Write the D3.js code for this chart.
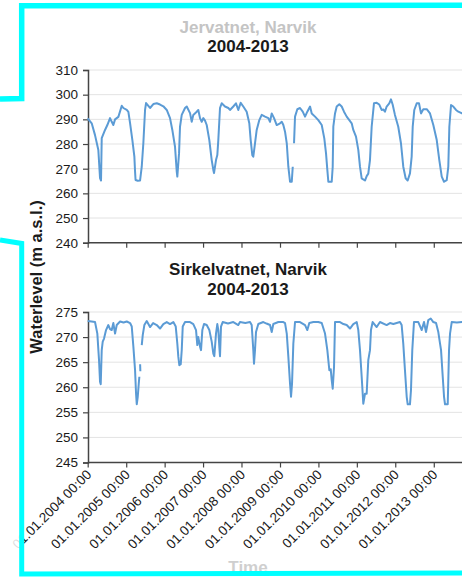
<!DOCTYPE html>
<html>
<head>
<meta charset="utf-8">
<script src="https://cdn.jsdelivr.net/npm/d3@7/dist/d3.min.js"></script>
<style>
  html, body { margin: 0; padding: 0; background: #fff; }
  svg { display: block; font-family: "Liberation Sans", Arial, sans-serif; }
</style>
</head>
<body>
<div id="chart"></div>
<script>
'use strict';

// data: time is given as years since 01.01.2004, null = gap in record
var baseYear = 2004;

var jerT = [0, 0.104, 0.19, 0.276, 0.32, 0.346, 0.364, 0.45, 0.51, 0.58, 0.624, 0.666, 0.71, 0.796, 0.884, 0.926,
  1.014, 1.056, 1.1, 1.16, 1.212, 1.23, 1.243, 1.3, 1.36, 1.404, 1.446, 1.49, 1.516, 1.62, 1.706, 1.795, 1.88, 1.966,
  2.055, 2.14, 2.2, 2.27, 2.315, 2.33, 2.375, 2.4, 2.445, 2.531, 2.575, 2.661, 2.705, 2.746, 2.835, 2.876, 2.921, 2.965,
  3.006, 3.051, 3.095, 3.163, 3.225, 3.267, 3.285, 3.337, 3.371, 3.397, 3.441, 3.485, 3.571, 3.657, 3.701, 3.787, 3.857, 3.917, 3.979,
  4.047, 4.135, 4.203, 4.239, 4.281, 4.307, 4.351, 4.395, 4.463, 4.525, 4.611, 4.697, 4.741, 4.785, 4.845, 4.915,
  5.001, 5.046, 5.087, 5.131, 5.176, 5.217, 5.261, 5.306, 5.332, 5.35, 5.365, 5.391, 5.451, 5.521, 5.592, 5.652, 5.711, 5.782, 5.826, 5.912, 5.997,
  6.086, 6.153, 6.198, 6.232, 6.258, 6.346, 6.372, 6.388, 6.432, 6.476, 6.544, 6.606, 6.666, 6.736, 6.804, 6.866, 6.908, 6.978,
  7.038, 7.082, 7.126, 7.212, 7.256, 7.298, 7.342, 7.386, 7.446, 7.516, 7.584, 7.646, 7.688, 7.732, 7.776, 7.844, 7.888, 7.932, 7.992,
  8.078, 8.148, 8.208, 8.27, 8.322, 8.382, 8.426, 8.453, 8.494, 8.557, 8.616, 8.668, 8.728, 8.817, 8.902, 8.988,
  9.077, 9.144, 9.207, 9.267, 9.337, 9.378, 9.405, 9.449, 9.508, 9.579, 9.639, 9.735, 9.8];

var jerLevel = [290.4, 288.4, 283.6, 277.6, 266.2, 265.2, 282.4, 285.7, 287.7, 290.5, 289, 287.7, 290, 291, 295.5, 294.6,
  293.8, 293, 288.5, 281.6, 274.9, 268.8, 265.4, 265.1, 265.2, 270.8, 280.4, 293.8, 296.6, 294.6, 296.2, 296.5, 296, 295.3,
  293.8, 290.5, 285.7, 278.9, 268.8, 266.8, 276.3, 287, 291.8, 294.6, 295.2, 292.5, 289, 291.8, 293.1, 293.8, 290.5, 289,
  290.5, 289.5, 287.7, 281.6, 273.5, 269.5, 268.2, 273.5, 275.5, 281.6, 294.6, 296.5, 295.2, 294.6, 293.8, 295.2, 296.5, 293.8, 296.7,
  295.2, 293.1, 288.4, 281.6, 275.5, 274.9, 280.3, 285.7, 289.7, 291.8, 291.1, 290.5, 289, 292.4, 290.5, 287.7,
  288.4, 289, 287.7, 285, 280.3, 270.8, 264.7, 264.7, 270.8, null, 280.3, 291.1, 294.1, 294.6, 293.1, 291.1, 293.1, 295.2, 292.4, 291.1, 289.7,
  287.7, 282.3, 276.2, 269.5, 264.7, 264.7, 270.8, 287, 292.4, 295.2, 296.1, 295.2, 293.1, 291.1, 289.7, 288.4, 285.7, 283,
  277.6, 270.8, 266.1, 265.2, 267, 268, 273.5, 287, 296.5, 296.7, 296, 293.8, 294, 293.1, 295.2, 296.5, 298.1, 296, 291.8,
  287, 280.3, 270.8, 266.1, 265.2, 268.1, 274.9, 287, 293.8, 296.5, 296.5, 292.4, 294.1, 294.1, 292.4, 287.7,
  281.6, 273.5, 266.8, 264.7, 265.4, 270.8, 287, 295.8, 295.2, 293.8, 293.1, 292.4, 292];

var sirT = [0, 0.1, 0.19, 0.25, 0.294, 0.32, 0.338, 0.364, 0.39, 0.424, 0.476, 0.536, 0.58, 0.624, 0.666, 0.71, 0.754, 0.84, 0.93,
  1.014, 1.1, 1.144, 1.186, 1.23, 1.256, 1.274, 1.3, 1.326, 1.342, 1.352, 1.362, 1.368, 1.38, 1.404, 1.43, 1.472, 1.534, 1.62, 1.7, 1.795, 1.88, 1.966,
  2.055, 2.14, 2.226, 2.289, 2.33, 2.356, 2.382, 2.419, 2.445, 2.471, 2.531, 2.661, 2.746, 2.817, 2.85, 2.876, 2.921, 2.947, 2.981,
  3.025, 3.095, 3.163, 3.225, 3.267, 3.293, 3.337, 3.371, 3.397, 3.423, 3.441, 3.467, 3.511, 3.65, 3.787, 3.917, 3.961,
  4.1, 4.221, 4.265, 4.307, 4.325, 4.351, 4.377, 4.437, 4.567, 4.65, 4.741, 4.785, 4.827, 4.957,
  5.087, 5.131, 5.176, 5.217, 5.261, 5.287, 5.313, 5.347, 5.391, 5.521, 5.652, 5.711, 5.763, 5.868, 5.997,
  6.086, 6.172, 6.232, 6.284, 6.32, 6.346, 6.372, 6.406, 6.432, 6.562, 6.65, 6.736, 6.822, 6.908, 6.996,
  7.038, 7.082, 7.126, 7.168, 7.212, 7.256, 7.298, 7.342, 7.368, 7.412, 7.516, 7.602, 7.776, 7.862, 7.95,
  8.122, 8.166, 8.208, 8.252, 8.297, 8.323, 8.382, 8.408, 8.442, 8.486, 8.598, 8.687, 8.746, 8.798, 8.858, 8.921, 8.988,
  9.059, 9.118, 9.163, 9.189, 9.233, 9.267, 9.293, 9.363, 9.397, 9.423, 9.467, 9.6, 9.735, 9.8];

var sirLevel = [273.2, 273.1, 273, 270.7, 265.4, 261.1, 260.6, 267.4, 269.1, 269.7, 271.4, 272.4, 271.6, 271.4, 272.8, 270.7, 272.4, 273.1, 272.9,
  273.1, 272.8, 272.1, 268.1, 263.4, 258.7, 256.6, 258.1, 260.7, 262.1, null, 264.6, 263.2, null, 268.4, 270.4, 272.4, 273.2, 272, 272.8, 272.4, 271.7, 272.6,
  273, 272.6, 273, 272.1, 268.7, 266.1, 264.4, 264.6, 267.4, 272.1, 273, 273, 272.6, 271.4, 268.4, 270, 268.1, 267.4, 271.4,
  272.6, 272.4, 271.4, 269.1, 266.7, 266.2, 270.7, 272.6, 271.4, 268.1, 266.2, 272.1, 273, 272.7, 273, 272.4, 273,
  272.8, 273, 272.4, 267.4, 264.7, 267.4, 271, 272.6, 273, 272.7, 272.4, 271, 272.6, 273,
  273, 272.8, 270.7, 266.1, 260.7, 258.1, 260.7, 268.7, 273, 273, 272.4, 271.4, 272.8, 273, 273,
  272.8, 270.7, 267.4, 263.4, 263.6, 261.4, 259.7, 264, 273, 273, 272.6, 272.4, 271.7, 272.6, 273,
  271.4, 267.4, 262.1, 256.7, 258.7, 258.7, 265.4, 267.4, 271.4, 273, 272, 273, 272.4, 272.8, 272.6,
  273, 272.4, 268.7, 263.4, 258.1, 256.6, 256.6, 259.4, 267.4, 273, 273, 271.4, 273, 271, 273.4, 273.7, 273,
  272.8, 271, 268.7, 267.4, 262.1, 258.1, 256.6, 256.6, 267.4, 270.7, 273, 272.9, 273, 273];

var jerTicks = [240, 250, 260, 270, 280, 290, 300, 310];
var sirTicks = [245, 250, 255, 260, 265, 270, 275];
var titles = [['Jervatnet, Narvik', '2004-2013'], ['Sirkelvatnet, Narvik', '2004-2013']];
var yTitle = 'Waterlevel (m a.s.l.)';
var xTitle = 'Time';

var W = 462, H = 577;
var lineColor = '#5b9bd5';

function toDate(t){
  var y = baseYear + Math.floor(t);
  var d0 = new Date(y, 0, 1), d1 = new Date(y + 1, 0, 1);
  return new Date(+d0 + (t - Math.floor(t)) * (d1 - d0));
}

var svg = d3.select('#chart').append('svg')
  .attr('width', W)
  .attr('height', H);

var x = d3.scaleTime()
  .domain([new Date(2004, 0, 1), new Date(2014, 0, 1)])
  .range([87.7, 472.2]);

var yearTicks = d3.timeYear.range(new Date(2004, 0, 1), new Date(2013, 0, 2));
var fmt = d3.timeFormat('%d.%m.%Y %H:%M');

function panel(tArr, vArr, domain, yRange, ticks, showLabels){
  var y = d3.scaleLinear().domain(domain).range(yRange);
  var g = svg.append('g');

  // grid
  g.selectAll('.grid').data(ticks).enter().append('line')
    .attr('x1', 88).attr('x2', W)
    .attr('y1', function(d){ return y(d); })
    .attr('y2', function(d){ return y(d); })
    .style('stroke', '#e3e3e3')
    .style('stroke-width', 1);

  var yAxis = g.append('g')
    .attr('transform', 'translate(88,0)')
    .call(d3.axisLeft(y).tickValues(ticks).tickSize(5).tickPadding(5));
  yAxis.selectAll('text').style('font-size', '13.5px').style('fill', '#1a1a1a');

  var xAxis = g.append('g')
    .attr('transform', 'translate(0,' + yRange[0] + ')')
    .call(d3.axisBottom(x).tickValues(yearTicks).tickSize(5).tickFormat(showLabels ? fmt : ''));
  xAxis.selectAll('text')
    .style('font-size', '13.5px')
    .style('fill', '#1a1a1a')
    .style('text-anchor', 'end')
    .attr('x', 0)
    .attr('y', 0)
    .attr('dy', 0)
    .attr('transform', 'translate(4,13) rotate(-45)');

  [yAxis, xAxis].forEach(function(a){
    a.select('.domain').style('stroke', '#444').style('stroke-width', 1.5);
    a.selectAll('.tick line').style('stroke', '#444').style('stroke-width', 1.2);
  });
  xAxis.select('.domain').attr('d', 'M88,0H' + W);

  var pts = tArr.map(function(t, i){ return [t, vArr[i]]; });
  var line = d3.line()
    .defined(function(d){ return d[1] !== null; })
    .x(function(d){ return x(toDate(d[0])); })
    .y(function(d){ return y(d[1]); });

  g.append('path')
    .datum(pts)
    .attr('d', line)
    .style('fill', 'none')
    .style('stroke', lineColor)
    .style('stroke-width', 2)
    .style('stroke-linejoin', 'round');
}

panel(jerT, jerLevel, [240, 310], [242.7, 70], jerTicks, false);
panel(sirT, sirLevel, [245, 275], [462.5, 312], sirTicks, true);

// titles
var ttl = svg.append('g').style('font-weight', 'bold').style('font-size', '17px').attr('text-anchor', 'middle');
ttl.append('text').attr('x', 248).attr('y', 32.5).style('fill', '#c4c4c4').text(titles[0][0]);
ttl.append('text').attr('x', 248).attr('y', 51.5).style('fill', '#1a1a1a').text(titles[0][1]);
ttl.append('text').attr('x', 248).attr('y', 275).style('fill', '#1a1a1a').text(titles[1][0]);
ttl.append('text').attr('x', 248).attr('y', 294.5).style('fill', '#1a1a1a').text(titles[1][1]);

svg.append('text')
  .attr('transform', 'translate(41.5,277) rotate(-90)')
  .attr('text-anchor', 'middle')
  .style('font-weight', 'bold')
  .style('font-size', '16.5px')
  .style('fill', '#1a1a1a')
  .text(yTitle);

svg.append('text')
  .attr('x', 248).attr('y', 573)
  .attr('text-anchor', 'middle')
  .style('font-weight', 'bold')
  .style('font-size', '17px')
  .style('fill', '#cfcfcf')
  .text(xTitle);

// faded strip outside the frame
svg.append('rect')
  .attr('x', 0).attr('y', 244).attr('width', 20).attr('height', H - 244)
  .style('fill', '#fff').style('opacity', 0.85);

// cyan frame
svg.append('path')
  .attr('d', 'M0,99 L21.7,98.5 L21.7,5.7 L' + W + ',5.2')
  .style('fill', 'none').style('stroke', '#00ffff').style('stroke-width', 5.5);
svg.append('path')
  .attr('d', 'M0,240 L21.7,243.5 L21.7,574 L' + W + ',573')
  .style('fill', 'none').style('stroke', '#00ffff').style('stroke-width', 5);
</script>
</body>
</html>
